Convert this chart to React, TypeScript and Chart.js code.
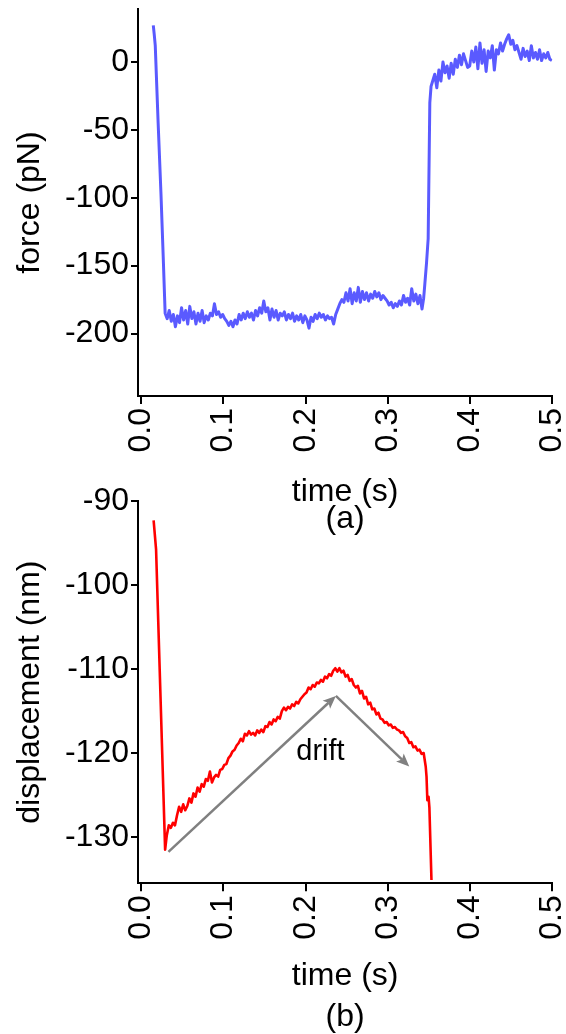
import React, { useEffect, useRef } from "react";
import { Chart, registerables } from "chart.js";

Chart.register(...registerables);

const FONT = "'Liberation Sans', Arial, sans-serif";

// ---------- axes ----------
const timeTicks = [0, 0.1, 0.2, 0.3, 0.4, 0.5];
const timeMin = -0.004;
const timeMax = 0.5;
const forceTicks = [0, -50, -100, -150, -200];
const forceMin = -246;
const forceMax = 39;
const dispTicks = [-90, -100, -110, -120, -130];
const dispMin = -135.5;
const dispMax = -90;

// sampling interval of the noisy stretches (s)
const sampleStep = 0.0025;

// ---------- force trace (pN) ----------
const forceDropTime = [0.0146, 0.0158, 0.017, 0.0205, 0.024, 0.0267, 0.029];
const forceDropValue = [27, 20, 12, -45, -98, -144, -185];

const forcePlateauStart = 0.0315;
const forcePlateauValue = [
  -189, -183, -191, -186, -195, -187, -192, -181, -190, -183,
  -193, -180, -189, -184, -193, -185, -191, -183, -192, -187,
  -190, -185, -187, -178, -186, -184, -188, -186, -189, -191,
  -194, -191, -195, -190, -193, -186, -190, -185, -189, -184,
  -188, -185, -190, -183, -187, -181, -185, -176, -184, -181,
  -190, -182, -188, -183, -190, -185, -187, -184, -190, -186,
  -189, -185, -191, -187, -190, -186, -192, -187, -190, -196,
  -188, -191, -186, -189, -185, -188, -186, -190, -187, -189,
  -188, -193, -186, -182, -178, -175, -177, -170, -176, -167,
  -178, -170, -176, -166, -177, -169, -175, -170, -176, -171,
  -174, -169, -173, -170, -175, -172, -174, -176, -179, -177,
  -181, -178, -180, -176, -179, -172, -177, -174, -179, -167,
  -176, -171, -178, -172, -182,
];

const forceJumpTime = [0.3435, 0.345, 0.347, 0.349, 0.351, 0.3525];
const forceJumpValue = [-174, -163, -148, -130, -30, -18];

const forceEndStart = 0.3545;
const forceEndValue = [
  -14, -9, -19, -6, -14, 0, -8, -3, -12, -1,
  -9, 2, -4, 5, -2, 6, 1, -4, -3, 8,
  0, 11, -5, 14, -1, 9, -7, 8, 3, 12,
  -6, 9, 6, 14, 8, 13, 17, 20, 13, 16,
  9, 12, 7, 2, 10, 4, 8, 1, 12, 3,
  7, 2, 9, 1, 6, 3, 7, 2, 1,
];

// ---------- displacement trace (nm) ----------
const dispDropTime = [0.015, 0.018, 0.029];
const dispDropValue = [-92.3, -95.8, -131.5];

const dispRiseStart = 0.031;
const dispRiseValue = [
  -129.8, -128.6, -128.9, -128.3, -128.6, -127.4, -126.4, -127.0, -126.1, -126.8,
  -126.3, -125.4, -125.9, -124.8, -125.2, -124.1, -124.6, -123.7, -124.0, -123.1,
  -123.3, -122.2, -123.5, -122.9, -122.6, -122.8, -122.0, -121.9, -121.4, -121.3,
  -120.6, -120.3, -119.8, -119.6, -119.1, -118.8, -118.3, -118.6, -117.7, -117.9,
  -117.4, -117.8, -117.6, -117.9, -117.3, -117.6, -117.2, -117.5, -116.8, -116.9,
  -116.3, -116.6, -116.0, -116.2, -115.7, -115.9, -115.0, -114.6, -114.9, -114.5,
  -114.7, -114.2, -114.4, -113.9, -114.1, -113.6, -113.3, -113.0, -112.8, -112.2,
  -112.4, -111.9, -112.1, -111.6, -111.7, -111.3, -111.5, -110.9, -111.1, -110.6,
  -110.8, -110.2, -109.9, -110.3, -109.9, -110.4, -110.2, -110.9, -110.7, -111.4,
  -111.2, -111.9, -112.2, -112.0, -112.9, -112.6, -113.5, -113.3, -114.2, -114.0,
  -114.8, -114.7, -115.4, -115.2, -115.9, -116.0, -116.4, -116.3, -116.7, -116.6,
  -117.0, -116.9, -117.2, -117.3, -117.6, -117.5, -118.0, -118.2, -118.8, -118.7,
  -119.3, -119.2, -119.7, -119.6, -120.1, -120.0,
];

const dispTailTime = [0.346, 0.347, 0.348, 0.3495, 0.3505, 0.353];
const dispTailValue = [-121.6, -122.8, -125.6, -125.2, -126.5, -135.1];

// ---------- drift annotation ----------
const driftFromTime = [0.033, 0.2367];
const driftFromDisp = [-131.75, -113.2];
const driftToTime = [0.2367, 0.326];
const driftToDisp = [-113.2, -121.6];
const driftLabel = "drift";
const driftLabelTime = 0.218;
const driftLabelDisp = -119.9;

// ---------- helpers ----------
type P = { x: number; y: number };
function paired(times: number[], values: number[]): P[] {
  return times.map((t, i) => ({ x: t, y: values[i] }));
}
function sampled(start: number, values: number[]): P[] {
  return values.map((v, i) => ({ x: +(start + i * sampleStep).toFixed(5), y: v }));
}

const forcePoints: P[] = [
  ...paired(forceDropTime, forceDropValue),
  ...sampled(forcePlateauStart, forcePlateauValue),
  ...paired(forceJumpTime, forceJumpValue),
  ...sampled(forceEndStart, forceEndValue),
];
const dispPoints: P[] = [
  ...paired(dispDropTime, dispDropValue),
  ...sampled(dispRiseStart, dispRiseValue),
  ...paired(dispTailTime, dispTailValue),
];

const W = 566;

function makeOptions(opts: {
  yTicks: number[];
  yMin: number;
  yMax: number;
  yTitle: string;
  xTitle: string[];
  xTitleLineHeight: number;
  xTitlePadBottom: number;
  xHeight: number;
  padTop: number;
}): any {
  return {
    responsive: false,
    animation: false,
    events: [],
    layout: { padding: { left: 0, right: W - 552.3, top: opts.padTop, bottom: 0 } },
    plugins: { legend: { display: false }, tooltip: { enabled: false }, title: { display: false } },
    scales: {
      x: {
        type: "linear",
        min: timeMin,
        max: timeMax,
        afterBuildTicks: (s: any) => {
          s.ticks = timeTicks.map((v) => ({ value: v }));
        },
        afterFit: (s: any) => {
          s.height = opts.xHeight;
          s.paddingLeft = 0;
          s.paddingRight = 0;
        },
        grid: { display: true, drawOnChartArea: false, drawTicks: true, tickLength: 8, lineWidth: 2, color: "#000" },
        border: { display: true, color: "#000", width: 2 },
        ticks: {
          autoSkip: false,
          minRotation: 90,
          maxRotation: 90,
          padding: 4,
          color: "#000",
          font: { family: FONT, size: 32 },
          callback: (v: any) => Number(v).toFixed(1),
        },
        title: {
          display: true,
          text: opts.xTitle,
          color: "#000",
          font: { family: FONT, size: 32, lineHeight: opts.xTitleLineHeight },
          padding: { top: 0, bottom: opts.xTitlePadBottom },
        },
      },
      y: {
        type: "linear",
        min: opts.yMin,
        max: opts.yMax,
        afterBuildTicks: (s: any) => {
          s.ticks = opts.yTicks.map((v) => ({ value: v }));
        },
        afterFit: (s: any) => {
          s.width = 138;
          s.paddingTop = 0;
          s.paddingBottom = 0;
        },
        grid: { display: true, drawOnChartArea: false, drawTicks: true, tickLength: 7, lineWidth: 2, color: "#000" },
        border: { display: true, color: "#000", width: 2 },
        ticks: {
          autoSkip: false,
          padding: 2,
          color: "#000",
          font: { family: FONT, size: 32 },
          callback: (v: any) => String(v),
        },
        title: {
          display: true,
          text: opts.yTitle,
          color: "#000",
          font: { family: FONT, size: 32 },
          padding: { top: 11, bottom: 0 },
        },
      },
    },
  };
}

const driftPlugin = {
  id: "driftArrows",
  afterDatasetsDraw(chart: any) {
    const { ctx } = chart;
    const xs = chart.scales.x;
    const ys = chart.scales.y;
    ctx.save();
    ctx.strokeStyle = "#808080";
    ctx.fillStyle = "#808080";
    ctx.lineWidth = 2.5;
    ctx.lineCap = "butt";
    for (let i = 0; i < driftFromTime.length; i++) {
      const x1 = xs.getPixelForValue(driftFromTime[i]);
      const y1 = ys.getPixelForValue(driftFromDisp[i]);
      const x2 = xs.getPixelForValue(driftToTime[i]);
      const y2 = ys.getPixelForValue(driftToDisp[i]);
      const ang = Math.atan2(y2 - y1, x2 - x1);
      const headLen = 13;
      const half = 5.5;
      const bx = x2 - Math.cos(ang) * (headLen - 3);
      const by = y2 - Math.sin(ang) * (headLen - 3);
      ctx.beginPath();
      ctx.moveTo(x1, y1);
      ctx.lineTo(bx, by);
      ctx.stroke();
      const cx = x2 - Math.cos(ang) * headLen;
      const cy = y2 - Math.sin(ang) * headLen;
      const nx = -Math.sin(ang);
      const ny = Math.cos(ang);
      ctx.beginPath();
      ctx.moveTo(x2, y2);
      ctx.lineTo(cx + nx * half, cy + ny * half);
      ctx.lineTo(bx, by);
      ctx.lineTo(cx - nx * half, cy - ny * half);
      ctx.closePath();
      ctx.fill();
    }
    ctx.fillStyle = "#000";
    ctx.font = `29px ${FONT}`;
    ctx.textAlign = "center";
    ctx.textBaseline = "middle";
    ctx.fillText(driftLabel, xs.getPixelForValue(driftLabelTime), ys.getPixelForValue(driftLabelDisp));
    ctx.restore();
  },
};

export default function App() {
  const topRef = useRef<HTMLCanvasElement>(null);
  const botRef = useRef<HTMLCanvasElement>(null);

  useEffect(() => {
    const top = new Chart(topRef.current as HTMLCanvasElement, {
      type: "line",
      data: {
        datasets: [
          {
            data: forcePoints,
            borderColor: "#5a5aff",
            borderWidth: 3,
            pointRadius: 0,
            tension: 0,
            fill: false,
            borderJoinStyle: "round",
          } as any,
        ],
      },
      options: makeOptions({
        yTicks: forceTicks,
        yMin: forceMin,
        yMax: forceMax,
        yTitle: "force (pN)",
        xTitle: ["time (s)", "(a)"],
        xTitleLineHeight: 27 / 32,
        xTitlePadBottom: 7,
        xHeight: 540 - 396,
        padTop: 9,
      }),
    });
    const bot = new Chart(botRef.current as HTMLCanvasElement, {
      type: "line",
      data: {
        datasets: [
          {
            data: dispPoints,
            borderColor: "#ff0000",
            borderWidth: 2.6,
            pointRadius: 0,
            tension: 0,
            fill: false,
            borderJoinStyle: "round",
          } as any,
        ],
      },
      options: makeOptions({
        yTicks: dispTicks,
        yMin: dispMin,
        yMax: dispMax,
        yTitle: "displacement (nm)",
        xTitle: ["time (s)", "(b)"],
        xTitleLineHeight: 41.5 / 32,
        xTitlePadBottom: -4,
        xHeight: 554 - 403.3,
        padTop: 21,
      }),
      plugins: [driftPlugin],
    });
    return () => {
      top.destroy();
      bot.destroy();
    };
  }, []);

  return (
    <div style={{ position: "absolute", left: 0, top: 0, width: W, height: 1034, overflow: "hidden" }}>
      <canvas ref={topRef} width={W} height={540} style={{ position: "absolute", left: 0, top: 0 }} />
      <canvas ref={botRef} width={W} height={554} style={{ position: "absolute", left: 0, top: 480 }} />
    </div>
  );
}
